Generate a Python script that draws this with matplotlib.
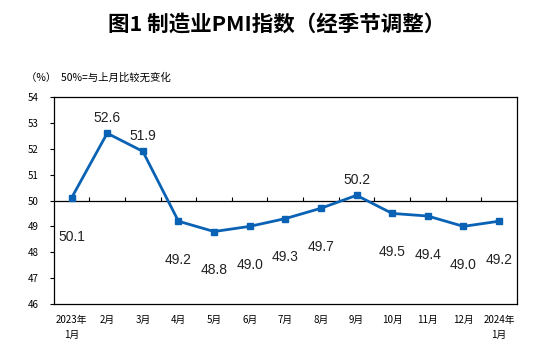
import matplotlib
matplotlib.use("Agg")
import matplotlib.pyplot as plt
import numpy as np

plt.rcParams['font.family'] = ['Noto Sans CJK SC', 'DejaVu Sans']

months = ["2023年\n1月", "2月", "3月", "4月", "5月", "6月", "7月",
          "8月", "9月", "10月", "11月", "12月", "2024年\n1月"]
pmi = [50.1, 52.6, 51.9, 49.2, 48.8, 49.0, 49.3, 49.7, 50.2, 49.5, 49.4, 49.0, 49.2]
y_ticks = [46, 47, 48, 49, 50, 51, 52, 53, 54]
LINE_COLOR = "#0a62b4"

fig = plt.figure(figsize=(5.54, 3.49), dpi=100)
ax = fig.add_axes([0.097, 0.129, 0.836, 0.593])

x = np.arange(len(pmi))
ax.plot(x, pmi, color=LINE_COLOR, linewidth=2, marker="s", markersize=4.5,
        markerfacecolor=LINE_COLOR, markeredgecolor=LINE_COLOR, zorder=3)

# 50% reference line with small upward ticks between months
ax.axhline(50, color="black", linewidth=0.9, zorder=2)
ax.vlines(x[1:] - 0.5, 50, 50.12, color="black", linewidth=0.8, zorder=2)

# value labels: above for the peaks, below otherwise
for xi, v in zip(x, pmi):
    above = v in (52.6, 51.9, 50.2)
    ax.annotate(f"{v:.1f}", (xi, v), xytext=(0, 6 if above else -28),
                textcoords="offset points", ha="center",
                va="bottom" if above else "center",
                fontsize=10, family="Liberation Sans", color="#222222")

ax.set_xlim(-0.5, len(pmi) - 0.5)
ax.set_ylim(min(y_ticks), max(y_ticks))
ax.set_yticks(y_ticks)
ax.set_yticklabels([str(t) for t in y_ticks], fontsize=7)
ax.set_xticks(x)
ax.set_xticklabels(months, fontsize=7, linespacing=1.6, va="top")
ax.tick_params(axis="x", length=0, pad=8)
ax.tick_params(axis="y", length=3, width=0.8, pad=8, direction="out")
for spine in ax.spines.values():
    spine.set_linewidth(0.9)
    spine.set_color("black")

fig.text(0.5, 0.93, "图1 制造业PMI指数（经季节调整）", ha="center", va="center",
         fontsize=15.5, weight="bold")
fig.text(0.047, 0.777, "（%）  50%=与上月比较无变化", ha="left", va="center", fontsize=7.5)

fig.savefig("out.png", dpi=100)
